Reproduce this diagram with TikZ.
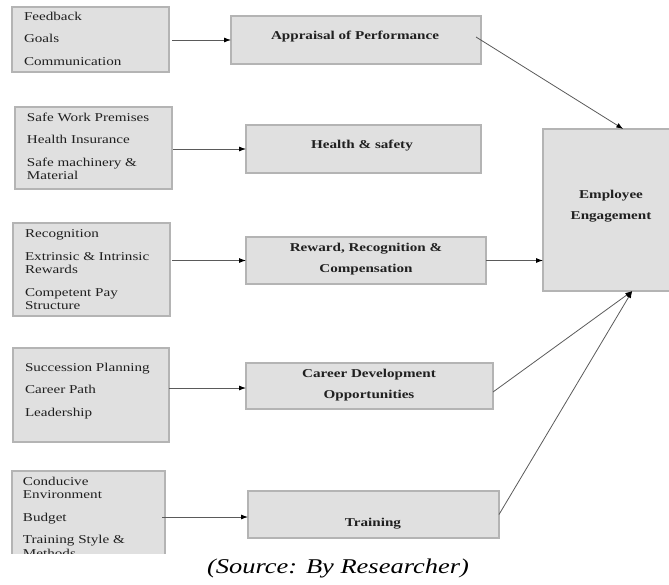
\documentclass[tikz,border=0pt]{standalone}
\usepackage{fontspec}
\setmainfont{Liberation Serif}[FakeStretch=1.26]
\usetikzlibrary{arrows.meta}
\definecolor{boxfill}{HTML}{E0E0E0}
\definecolor{boxline}{HTML}{B4B4B4}
\definecolor{arrline}{HTML}{5A5A5A}
\definecolor{txt}{HTML}{202020}
\begin{document}
\begin{tikzpicture}[x=1pt,y=-1pt,
  every node/.style={inner sep=0pt,outer sep=0pt},
  factor/.style 2 args={draw=boxline,fill=boxfill,line width=1.3pt,minimum width=#1,minimum height=#2,anchor=north west},
  items/.style={anchor=north west,align=left,text=txt,font=\fontsize{12}{13.5}\selectfont},
  head/.style={align=center,text=txt,font=\bfseries\fontsize{12}{21.5}\selectfont},
  link/.style={draw=arrline,line width=0.8pt,-{Latex[length=7pt,width=5pt,color=black]}}]
\useasboundingbox (0,0) rectangle (669,584);
\draw (12,7) node[factor={157}{65}] (fbk) {};
\draw (24,12) node[items] (fbktxt) {Feedback\\[9pt]Goals\\[9pt]Communication};
\draw (15,107) node[factor={157}{82}] (safe) {};
\draw (27,113) node[items] (safetxt) {Safe Work Premises\\[9pt]Health Insurance\\[9pt]Safe machinery \&\\Material};
\draw (13,223) node[factor={157}{93}] (recog) {};
\draw (25,230) node[items] (recogtxt) {Recognition\\[9pt]Extrinsic \& Intrinsic\\Rewards\\[9pt]Competent Pay\\Structure};
\draw (13,348) node[factor={156}{94}] (succ) {};
\draw (25,363) node[items] (succtxt) {Succession Planning\\[9pt]Career Path\\[9pt]Leadership};
\begin{scope}
\clip (0,400) rectangle (669,553);
\draw (12,471) node[factor={153}{100}] (cond) {};
\draw (23,477) node[items] (condtxt) {Conducive\\Environment\\[9pt]Budget\\[9pt]Training Style \&\\Methods};
\end{scope}
\draw (231,16) node[factor={250}{48}] (appraisal) {};
\draw (355,39) node[head,anchor=base] (appraisaltxt) {Appraisal of Performance};
\draw (246,125) node[factor={235}{48}] (health) {};
\draw (362,148) node[head,anchor=base] (healthtxt) {Health \& safety};
\draw (246,237) node[factor={240}{47}] (reward) {};
\draw (366,243) node[head,anchor=north] (rewardtxt) {Reward, Recognition \&\\Compensation};
\draw (246,363) node[factor={247}{46}] (career) {};
\draw (369,369) node[head,anchor=north] (careertxt) {Career Development\\Opportunities};
\draw (248,491) node[factor={251}{47}] (training) {};
\draw (373,526) node[head,anchor=base] (trainingtxt) {Training};
\draw (543,129) node[factor={129}{162}] (engage) {};
\draw (611,190) node[head,anchor=north] (engagetxt) {Employee\\Engagement};
\draw (338,573) node[anchor=base,text=black,font=\itshape\fontsize{21}{24}\selectfont] (source) {(Source: By Researcher)};
\draw [link,shorten <=3pt] (appraisal.west -| fbk.east) -- (appraisal.west);
\draw [link,shorten <=1pt] (health.west -| safe.east) -- (health.west);
\draw [link,shorten <=2pt] (reward.west -| recog.east) -- (reward.west);
\draw [link] (succ.east |- 0,388) -- (career.west |- 0,388);
\draw [link,shorten <=-3pt] (cond.east |- 0,517) -- (training.west |- 0,517);
\draw [link] (appraisal.east) ++(-5,-3) -- (engage.79);
\draw [link] (reward.east) -- (reward.east -| engage.west);
\draw [link] (career.east) ++(0,6) -- (engage.-73);
\draw [link] (training.east) -- (engage.-73);
\end{tikzpicture}
\end{document}
